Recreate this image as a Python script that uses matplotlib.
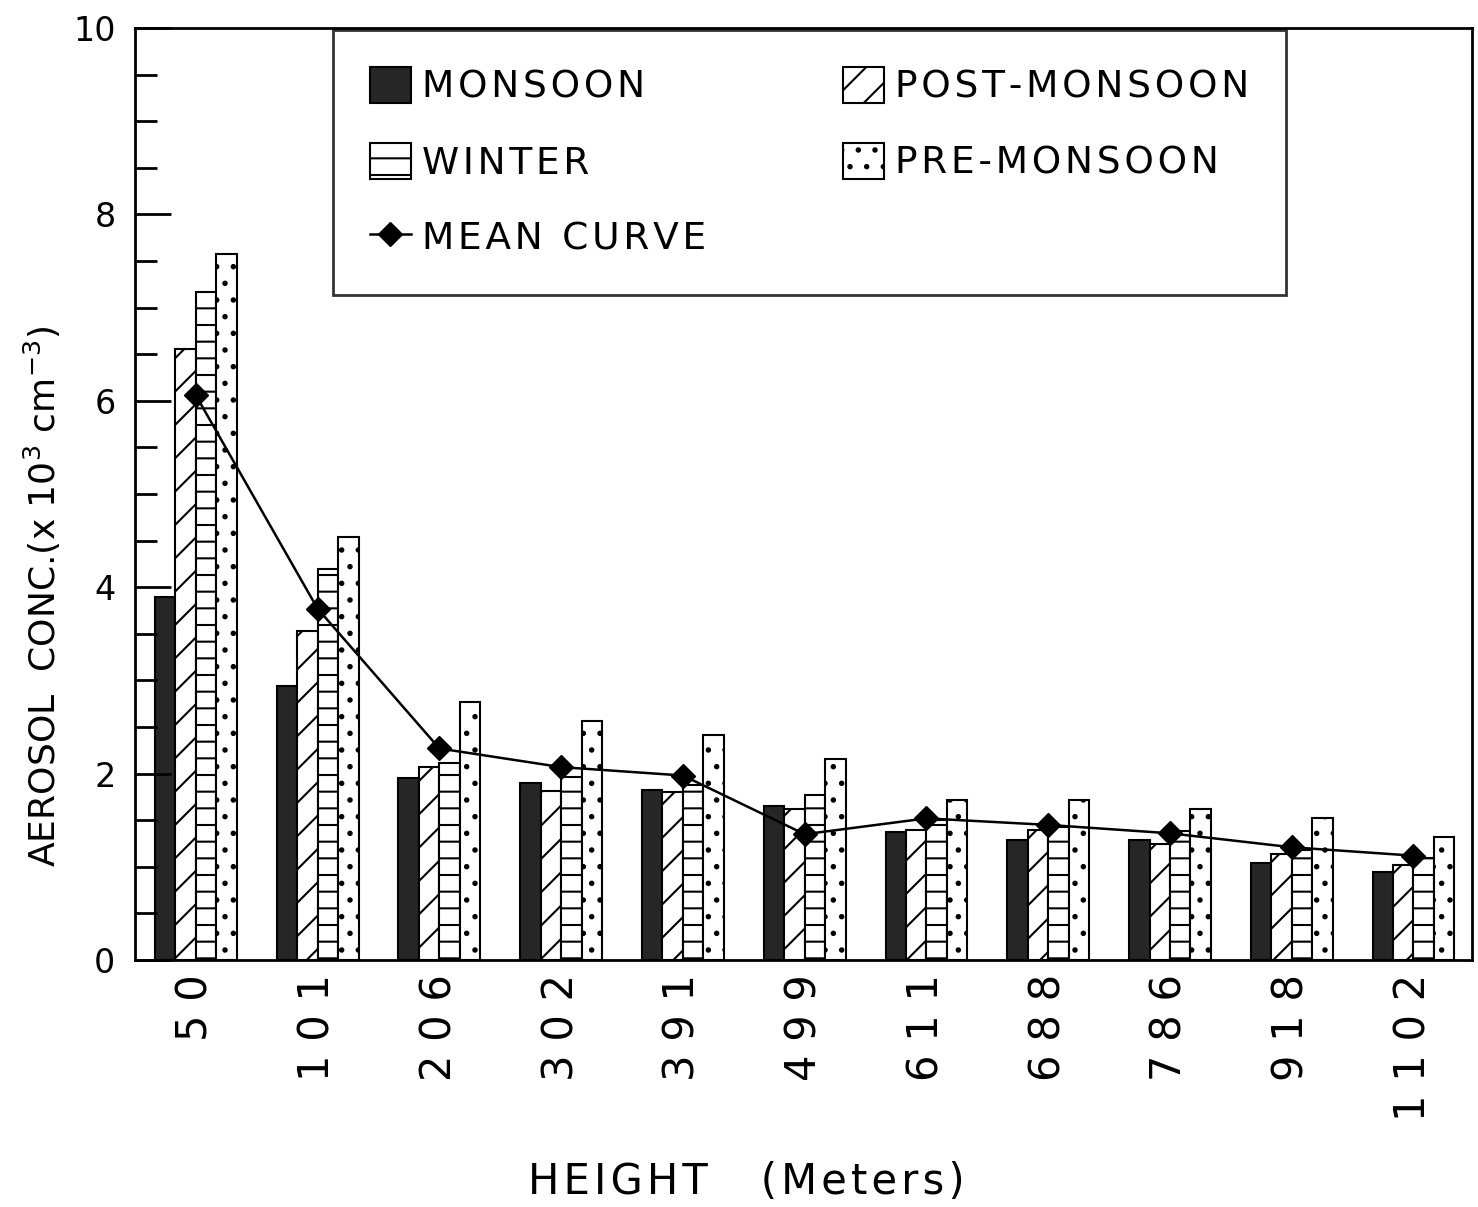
import numpy as np
import matplotlib.pyplot as plt
from matplotlib.ticker import MultipleLocator

heights = ['50', '101', '206', '302', '391', '499', '611', '688', '786', '918', '1102']

monsoon = [3.89, 2.94, 1.95, 1.90, 1.82, 1.65, 1.37, 1.29, 1.29, 1.04, 0.94]
post_monsoon = [6.56, 3.53, 2.07, 1.81, 1.80, 1.62, 1.40, 1.40, 1.25, 1.14, 1.02]
winter = [7.17, 4.20, 2.11, 1.96, 1.88, 1.77, 1.50, 1.43, 1.38, 1.18, 1.09]
pre_monsoon = [7.57, 4.54, 2.77, 2.56, 2.41, 2.16, 1.72, 1.72, 1.62, 1.52, 1.32]
mean_curve = [6.06, 3.77, 2.27, 2.07, 1.98, 1.35, 1.52, 1.45, 1.36, 1.21, 1.12]

legend_names = ['MONSOON', 'WINTER', 'MEAN CURVE', 'POST-MONSOON', 'PRE-MONSOON']


def spaced(s, gap):
    # old plotter lettering is widely spaced
    return gap.join(s)


plt.rcParams['font.family'] = 'DejaVu Sans'
plt.rcParams['hatch.linewidth'] = 1.5

fig = plt.figure(figsize=(14.78, 12.07), dpi=100)
ax = fig.add_axes([0.0913, 0.2046, 0.9046, 0.7722])

x = np.arange(len(heights))
w = 0.168

b1 = ax.bar(x - 1.5 * w, monsoon, w, color='#262626', edgecolor='black', linewidth=1.5)
b2 = ax.bar(x - 0.5 * w, post_monsoon, w, color='white', edgecolor='black', linewidth=1.5,
            hatch='/')
b3 = ax.bar(x + 0.5 * w, winter, w, color='white', edgecolor='black', linewidth=1.5,
            hatch='-')
b4 = ax.bar(x + 1.5 * w, pre_monsoon, w, color='white', edgecolor='black', linewidth=1.5,
            hatch='.')
ln, = ax.plot(x, mean_curve, color='black', linewidth=1.8, marker='D', markersize=12,
              zorder=5)

ax.set_xlim(-0.5, 10.48)
ax.set_ylim(0, 10)
ax.set_xticks(x)
ax.set_xticklabels([spaced(h, '\u2004') for h in heights], rotation=90, fontsize=30)
ax.tick_params(axis='x', length=0, pad=10)
ax.yaxis.set_major_locator(MultipleLocator(2))
ax.yaxis.set_minor_locator(MultipleLocator(0.5))
ax.tick_params(axis='y', which='major', direction='in', length=26, width=2, labelsize=24, pad=14)
ax.tick_params(axis='y', which='minor', direction='in', length=16, width=2)

for s in ax.spines.values():
    s.set_linewidth(2)

ax.set_ylabel('AEROSOL  CONC.(x 10$^{3}$ cm$^{-3}$)', fontsize=26)
ax.yaxis.set_label_coords(-0.054, 0.39)
ax.set_xlabel(spaced('HEIGHT', '\u200a') + '    ' + spaced('(Meters)', '\u200a'), fontsize=30)
ax.xaxis.set_label_coords(0.457, -0.216)

leg = ax.legend([b1, b3, ln, b2, b4],
                [spaced(n, '\u200a') for n in legend_names],
                ncol=2, loc='upper left', bbox_to_anchor=(0.148, 0.998, 0.713, 0.0),
                mode='expand', fontsize=27, frameon=True, fancybox=False,
                edgecolor='black', handlelength=1.1, handleheight=1.1,
                handletextpad=0.3, labelspacing=1.0, borderpad=0.98, borderaxespad=0)
leg.get_frame().set_linewidth(2)

fig.savefig('out.png', dpi=100)
